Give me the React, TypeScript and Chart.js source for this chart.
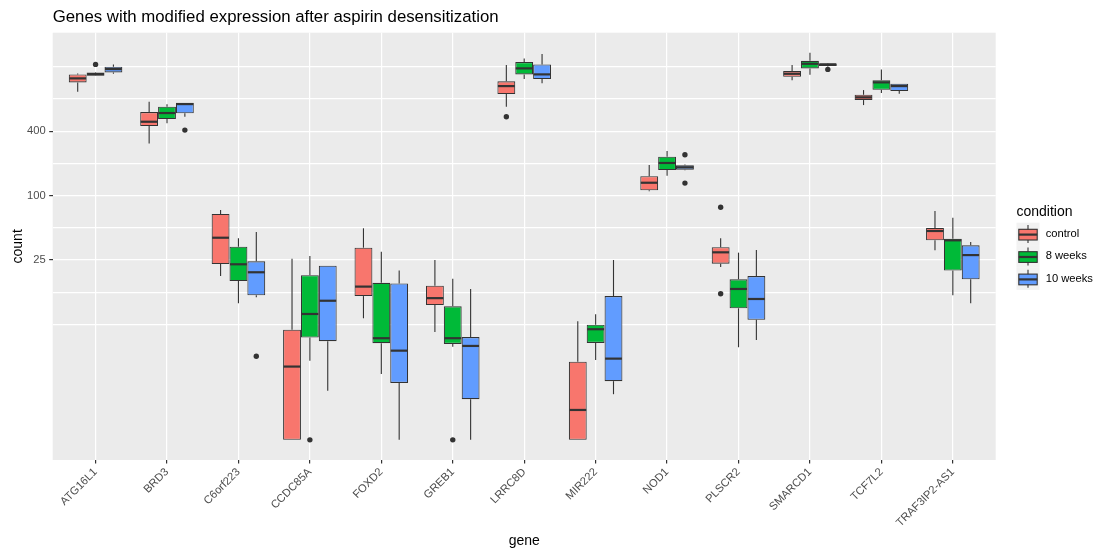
import React, { useEffect, useRef } from 'react';
import { Chart, registerables } from 'chart.js';

Chart.register(...registerables);

const genes = [
  'ATG16L1', 'BRD3', 'C6orf223', 'CCDC85A', 'FOXD2', 'GREB1', 'LRRC8D',
  'MIR222', 'NOD1', 'PLSCR2', 'SMARCD1', 'TCF7L2', 'TRAF3IP2-AS1',
];
const conditions = ['control', '8 weeks', '10 weeks'];
const conditionColors = ['#F8766D', '#00BA38', '#619CFF'];

// control
const controlLow = [936, 308, 17.7, 0.52, 7.13, 5.31, 678, 0.52, 110, 21.5, 1197, 703, 30.8];
const controlQ1 = [1146, 447, 22.9, 0.52, 11.5, 9.48, 891, 0.52, 112, 23.1, 1293, 783, 38.2];
const controlMedian = [1249, 491, 40.4, 2.52, 14.1, 11.0, 1058, 0.99, 132, 29.5, 1379, 830, 46.7];
const controlQ3 = [1361, 605, 67.3, 5.58, 32.6, 14.4, 1171, 2.8, 152, 32.9, 1462, 878, 49.8];
const controlHigh = [1385, 755, 73.3, 25.7, 49.5, 25.0, 1662, 6.69, 193, 39.9, 1662, 971, 71.8];

// 8 weeks
const weeks8Low = [1315, 474, 9.85, 2.86, 2.15, 3.87, 1230, 2.9, 153.5, 3.82, 1350, 910, 11.7];
const weeks8Q1 = [1322, 520, 15.9, 4.7, 4.17, 4.1, 1361, 4.19, 173.5, 8.84, 1549, 977, 19.9];
const weeks8Median = [1370, 592, 22.8, 7.82, 4.64, 4.64, 1549, 5.63, 202, 13.4, 1711, 1146, 38.2];
const weeks8Q3 = [1421, 678, 33.3, 18.0, 15.3, 9.22, 1774, 6.21, 231, 16.5, 1824, 1197, 39.5];
const weeks8High = [1430, 714, 39.9, 27.2, 29.9, 16.7, 1921, 7.77, 261, 29.3, 2168, 1516, 62.2];

// 10 weeks
const weeks10Low = [1379, 546, 11.2, 1.5, 0.52, 0.52, 1122, 1.39, 173, 4.47, 1610, 897, 9.85];
const weeks10Q1 = [1421, 588, 11.7, 4.35, 1.77, 1.25, 1230, 1.84, 175, 6.91, 1628, 950, 16.5];
const weeks10Median = [1526, 718, 19.2, 10.4, 3.55, 3.93, 1361, 2.99, 184, 10.8, 1688, 1058, 27.8];
const weeks10Q3 = [1604, 739, 24.3, 22.1, 15.1, 4.76, 1688, 11.5, 192, 17.7, 1725, 1112, 34.3];
const weeks10High = [1688, 739, 45.7, 22.1, 19.9, 13.4, 2108, 25.0, 196, 31.0, 1740, 1112, 36.8];

// outliers: gene index, condition index, value
const outlierGene = [0, 1, 2, 3, 5, 6, 8, 8, 9, 9, 10];
const outlierCondition = [1, 2, 2, 1, 1, 0, 2, 2, 0, 0, 2];
const outlierValue = [1688, 410, 3.15, 0.52, 0.52, 546, 241, 131, 77.8, 12.1, 1516];

const yBreaks = [6.25, 12.5, 25, 50, 100, 200, 400, 800, 1600];
const yLabels = [25, 100, 400];

const lows = [controlLow, weeks8Low, weeks10Low];
const q1s = [controlQ1, weeks8Q1, weeks10Q1];
const medians = [controlMedian, weeks8Median, weeks10Median];
const q3s = [controlQ3, weeks8Q3, weeks10Q3];
const highs = [controlHigh, weeks8High, weeks10High];

const FONT = '"Liberation Sans", Arial, Helvetica, sans-serif';
const INK = '#333333';

const boxPlugin = {
  id: 'boxWhiskers',
  afterDatasetsDraw(chart: any) {
    const ctx = chart.ctx;
    const yScale = chart.scales.y;
    const line = (x1: number, y1: number, x2: number, y2: number) => {
      ctx.beginPath();
      ctx.moveTo(x1, y1);
      ctx.lineTo(x2, y2);
      ctx.stroke();
    };
    ctx.save();
    ctx.strokeStyle = INK;
    conditions.forEach((_, k) => {
      const meta = chart.getDatasetMeta(k);
      meta.data.forEach((el: any, i: number) => {
        const x = el.x;
        const w = el.width;
        ctx.lineWidth = 1.1;
        line(x, yScale.getPixelForValue(q3s[k][i]), x, yScale.getPixelForValue(highs[k][i]));
        line(x, yScale.getPixelForValue(q1s[k][i]), x, yScale.getPixelForValue(lows[k][i]));
        ctx.lineWidth = 2.2;
        const ym = yScale.getPixelForValue(medians[k][i]);
        line(x - w / 2 + 0.5, ym, x + w / 2 - 0.5, ym);
      });
    });
    ctx.restore();
  },
};

const decorPlugin = {
  id: 'decor',
  beforeDraw(chart: any) {
    const { ctx, chartArea } = chart;
    ctx.save();
    ctx.fillStyle = '#EBEBEB';
    ctx.fillRect(chartArea.left, chartArea.top, chartArea.right - chartArea.left, chartArea.bottom - chartArea.top);
    ctx.restore();
  },
  afterDraw(chart: any) {
    const { ctx, chartArea } = chart;
    ctx.save();
    // title
    ctx.fillStyle = '#000000';
    ctx.font = `16.8px ${FONT}`;
    ctx.textAlign = 'left';
    ctx.textBaseline = 'alphabetic';
    ctx.fillText('Genes with modified expression after aspirin desensitization', chartArea.left, 22.3);
    // axis titles
    ctx.font = `14px ${FONT}`;
    ctx.textAlign = 'center';
    ctx.fillText('gene', (chartArea.left + chartArea.right) / 2, 545);
    ctx.save();
    ctx.translate(22, (chartArea.top + chartArea.bottom) / 2);
    ctx.rotate(-Math.PI / 2);
    ctx.textBaseline = 'alphabetic';
    ctx.fillText('count', 0, 0);
    ctx.restore();
    // legend
    const lx = 1016.5;
    ctx.textAlign = 'left';
    ctx.font = `14px ${FONT}`;
    ctx.fillText('condition', lx, 215.5);
    const rowH = 22.4;
    conditions.forEach((c, k) => {
      const top = 222.7 + k * rowH;
      ctx.fillStyle = '#F2F2F2';
      ctx.fillRect(lx, top, 23, rowH);
      const cx = lx + 11.5;
      ctx.strokeStyle = INK;
      ctx.lineWidth = 1.1;
      ctx.beginPath();
      ctx.moveTo(cx, top + 2.3);
      ctx.lineTo(cx, top + 20.3);
      ctx.stroke();
      ctx.fillStyle = conditionColors[k];
      ctx.fillRect(lx + 2.3, top + 6.6, 18.4, 10.7);
      ctx.strokeRect(lx + 2.3, top + 6.6, 18.4, 10.7);
      ctx.lineWidth = 2.2;
      ctx.beginPath();
      ctx.moveTo(lx + 2.3, top + 11.9);
      ctx.lineTo(lx + 20.7, top + 11.9);
      ctx.stroke();
      ctx.fillStyle = '#000000';
      ctx.font = `11.2px ${FONT}`;
      ctx.textBaseline = 'middle';
      ctx.fillText(c, 1045.7, top + rowH / 2);
      ctx.textBaseline = 'alphabetic';
    });
    ctx.restore();
  },
};

export default function App() {
  const canvasRef = useRef<HTMLCanvasElement | null>(null);

  useEffect(() => {
    if (!canvasRef.current) return;
    const barDatasets: any[] = conditions.map((c, k) => ({
      type: 'bar',
      label: c,
      data: genes.map((_, i) => ({ x: i + 1, y: [q1s[k][i], q3s[k][i]] })),
      backgroundColor: conditionColors[k],
      borderColor: INK,
      borderWidth: 1.1,
      borderSkipped: false,
      categoryPercentage: 0.75,
      barPercentage: 1,
      order: 1,
    }));
    const outlierDataset: any = {
      type: 'scatter',
      label: 'outliers',
      data: outlierValue.map((v, j) => ({
        x: outlierGene[j] + 1 + (outlierCondition[j] - 1) * 0.25,
        y: v,
      })),
      backgroundColor: INK,
      borderWidth: 0,
      pointRadius: 2.7,
      order: 0,
    };
    const tickFont = { family: FONT, size: 11.2 };
    const chart = new Chart(canvasRef.current, {
      type: 'bar',
      data: { datasets: [...barDatasets, outlierDataset] },
      plugins: [boxPlugin, decorPlugin],
      options: {
        animation: false,
        responsive: false,
        devicePixelRatio: 1,
        events: [],
        layout: { padding: { top: 32.7, right: 102.3, bottom: 0, left: 0 } },
        plugins: {
          legend: { display: false },
          title: { display: false },
          tooltip: { enabled: false },
        },
        scales: {
          x: {
            type: 'linear',
            bounds: 'data',
            min: 0.4,
            max: 13.6,
            offset: false,
            afterBuildTicks: (scale: any) => {
              scale.ticks = genes.map((_, i) => ({ value: i + 1 }));
            },
            afterFit: (scale: any) => {
              scale.height = 90;
            },
            ticks: {
              callback: (v: any) => genes[Math.round(Number(v)) - 1] ?? '',
              autoSkip: false,
              maxRotation: 45,
              minRotation: 45,
              font: tickFont,
              color: '#4D4D4D',
              padding: 2,
            },
            grid: {
              offset: false,
              color: '#FFFFFF',
              lineWidth: 1.2,
              tickLength: 3.5,
              tickColor: INK,
              drawTicks: true,
            },
            border: { display: false },
          },
          y: {
            type: 'logarithmic',
            bounds: 'data',
            min: 0.337,
            max: 3340,
            afterBuildTicks: (scale: any) => {
              scale.ticks = yBreaks.map((v) => ({ value: v }));
            },
            afterFit: (scale: any) => {
              scale.width = 52.7;
            },
            ticks: {
              autoSkip: false,
              callback: (v: any) => (yLabels.includes(Number(v)) ? String(v) : ''),
              font: tickFont,
              color: '#4D4D4D',
              padding: 3.5,
            },
            grid: {
              color: '#FFFFFF',
              lineWidth: 1.2,
              tickLength: 3.5,
              tickColor: (c: any) => (c.tick && yLabels.includes(c.tick.value) ? INK : 'rgba(0,0,0,0)'),
              drawTicks: true,
            },
            border: { display: false },
          },
        },
      } as any,
    });
    return () => chart.destroy();
  }, []);

  return (
    <div style={{ position: 'fixed', left: 0, top: 0, width: 1098, height: 550, background: '#FFFFFF' }}>
      <canvas ref={canvasRef} width={1098} height={550} style={{ display: 'block' }} />
    </div>
  );
}
